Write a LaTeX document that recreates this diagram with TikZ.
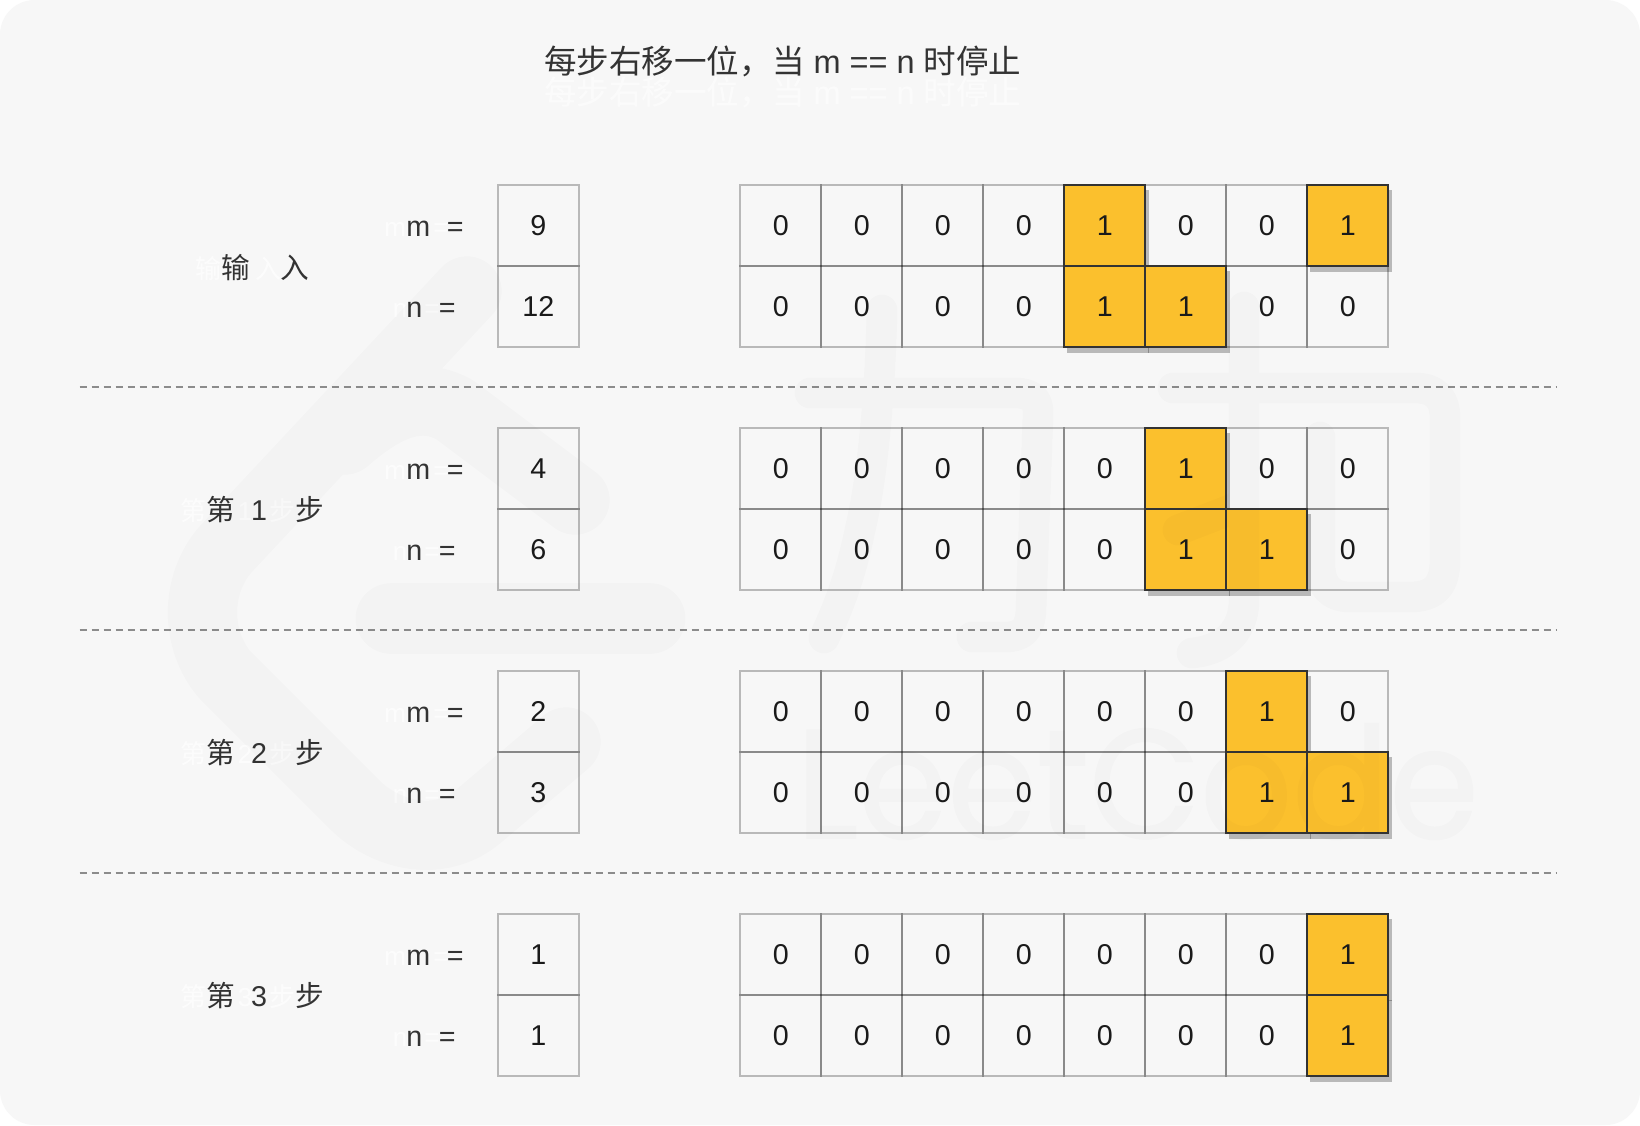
\documentclass[tikz,border=0pt]{standalone}
\usepackage{fontspec}
\setmainfont{Liberation Sans}
\newfontfamily\cjk{Noto Sans CJK SC}
\newfontfamily\wmfont[FakeBold=1.2]{Poppins}
\usetikzlibrary{calc}
\definecolor{panel}{HTML}{F7F7F7}
\definecolor{ink}{HTML}{333333}
\definecolor{digit}{HTML}{1A1A1A}
\definecolor{gold}{HTML}{FBC02D}
\definecolor{rulegray}{HTML}{8C8C8C}
\tikzset{
  cellgrid/.style={draw=black,draw opacity=.25,line width=1.4pt,minimum size=60.75pt,inner sep=0pt,text=digit,text height=15.5pt,text depth=0pt,font=\fontsize{21.5}{21.5}\selectfont},
  cellgold/.style={draw=ink,line width=1.6pt,fill=gold,minimum size=60.75pt,inner sep=0pt,text=digit,text height=15.5pt,text depth=0pt,font=\fontsize{21.5}{21.5}\selectfont},
  cellshadow/.style={fill=black,fill opacity=.25,minimum size=61.5pt,inner sep=0pt},
  lab/.style={anchor=base west,inner sep=0pt,text=ink,font=\fontsize{21.5}{21.5}\selectfont},
  labc/.style={lab,anchor=base},
  ghost/.style={anchor=base west,inner sep=0pt,text=white,text opacity=.7,font=\fontsize{19.5}{19.5}\selectfont},
  ghostc/.style={ghost,anchor=base},
  titletext/.style={anchor=base west,inner sep=0pt,font=\fontsize{24.4}{24.4}\selectfont},
  divider/.style={draw=rulegray,line width=1.5pt,dash pattern=on 5.4pt off 3.6pt},
  wm/.style={line cap=round,line join=round,draw=black}
}
\begin{document}
\begin{tikzpicture}[x=.75pt,y=-.75pt]
\useasboundingbox (0,0) rectangle (1640,1125);
\fill[white] (0,0) rectangle (1640,1125);
\fill[panel,rounded corners=26pt] (0,0) rectangle (1640,1125);

% title
\node[titletext,text=white,text opacity=.6] (titleghost) at (544,104) {{\cjk 每步右移一位，当} m == n {\cjk 时停止}};
\node[titletext,text=ink] (title) at (544,73) {{\cjk 每步右移一位，当} m == n {\cjk 时停止}};

% dividers
\foreach \k/\yy in {1/387,2/630,3/873}{
  \coordinate (dl\k) at (79.5,\yy);
  \coordinate (dr\k) at (1556,\yy);
  \draw[divider] (dl\k) -- (dr\k);
}

% side labels
\node[ghost] (ginputa) at (195,278) {\cjk 输};
\node[ghost] (ginputb) at (255,278) {\cjk 入};
\node[lab] (inputa) at (221,278) {\cjk 输};
\node[lab] (inputb) at (280,278) {\cjk 入};
\foreach \k/\tp/\d in {1/428/1,2/671/2,3/914/3}{
  \node[ghost] (gstepa\k) at (180.5,\tp+92.5) {\cjk 第};
  \node[ghostc] (gstepb\k) at (245,\tp+92.5) {\d};
  \node[ghost] (gstepc\k) at (269,\tp+92.5) {\cjk 步};
  \node[lab] (stepa\k) at (206.5,\tp+92.5) {\cjk 第};
  \node[labc] (stepb\k) at (259,\tp+92.5) {\d};
  \node[lab] (stepc\k) at (295,\tp+92.5) {\cjk 步};
}
\foreach \k/\tp/\mv/\nv in {0/185/9/12,1/428/4/6,2/671/2/3,3/914/1/1}{
  \node[ghost] (gma\k) at (384,\tp+51) {m};
  \node[ghost] (gmb\k) at (433,\tp+51) {=};
  \node[ghost] (gna\k) at (392.5,\tp+132) {n};
  \node[ghost] (gnb\k) at (424,\tp+132) {=};
  \node[lab] (lma\k) at (406,\tp+51) {m};
  \node[lab] (lmb\k) at (446.5,\tp+51) {=};
  \node[lab] (lna\k) at (406,\tp+132) {n};
  \node[lab] (lnb\k) at (438.5,\tp+132) {=};
  \node[cellgrid] (vm\k) at (538.4,\tp+40.5) {\mv};
  \node[cellgrid] (vn\k) at (538.4,\tp+121.5) {\nv};
}

% bit grids
\def\gridrows{a/185/{0,0,0,0,1,0,0,1},b/266/{0,0,0,0,1,1,0,0},c/428/{0,0,0,0,0,1,0,0},d/509/{0,0,0,0,0,1,1,0},e/671/{0,0,0,0,0,0,1,0},f/752/{0,0,0,0,0,0,1,1},g/914/{0,0,0,0,0,0,0,1},h/995/{0,0,0,0,0,0,0,1}}
\foreach \n/\tp/\bits in \gridrows{
  \foreach \b [count=\i] in \bits{
    \ifnum\b=0
      \node[cellgrid] (\n\i) at ({780.8+81*(\i-1)},\tp+40.5) {0};
    \fi
  }
}
\foreach \n/\tp/\bits in \gridrows{
  \foreach \b [count=\i] in \bits{
    \ifnum\b=1
      \node[cellshadow] (s\n\i) at ({784.3+81*(\i-1)},\tp+46) {};
    \fi
  }
}
\foreach \n/\tp/\bits in \gridrows{
  \foreach \b [count=\i] in \bits{
    \ifnum\b=1
      \node[cellgold] (\n\i) at ({780.8+81*(\i-1)},\tp+40.5) {1};
    \fi
  }
}

% watermark
\begin{scope}[transparency group,opacity=.015]
  % logo
  \draw[wm,line width=52pt] (467,291) -- (225,550) .. controls (195,585) and (195,640) .. (225,675) -- (355,805) .. controls (385,835) and (440,850) .. (480,815) -- (566,742);
  \draw[wm,line width=52pt] (345,440) .. controls (385,405) and (420,390) .. (455,410) -- (575,500);
  \draw[wm,line width=53pt] (391,618.5) -- (650,618.5);
  % first character
  \draw[wm,line width=23pt] (882,310) .. controls (880,400) and (872,480) .. (860,530) .. controls (850,580) and (835,615) .. (824,638);
  \draw[wm,line width=23pt] (810,393) -- (1015,393) .. controls (1032,393) and (1039,400) .. (1038,415) -- (1031,610) .. controls (1030,630) and (1022,637) .. (1005,637) -- (972,637);
  % second character
  \draw[wm,line width=23pt] (1244,307) -- (1244,600) .. controls (1244,630) and (1225,650) .. (1192,653);
  \draw[wm,line width=23pt] (1178,530) -- (1235,508);
  \draw[wm,line width=23pt] (1173,388) -- (1415,388) .. controls (1435,388) and (1445,398) .. (1445,418) -- (1445,560) .. controls (1445,585) and (1435,597) .. (1410,597) -- (1350,597) .. controls (1330,597) and (1320,585) .. (1320,565) -- (1320,437);
  % word
  \node[anchor=base west,inner sep=0pt,text=black,font=\wmfont\fontsize{116}{116}\selectfont] (word) at (796,838) {\scalebox{.93}[1]{LeetCode}};
\end{scope}
\end{tikzpicture}
\end{document}
